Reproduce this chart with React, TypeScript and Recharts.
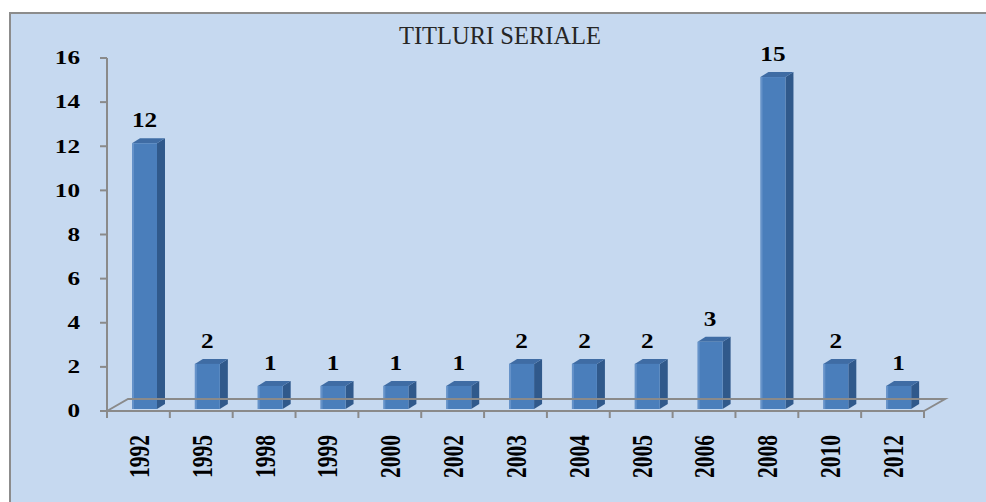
import React from 'react';
import { BarChart, Bar, XAxis, YAxis, LabelList, ReferenceLine } from 'recharts';

const years = ['1992', '1995', '1998', '1999', '2000', '2002', '2003', '2004', '2005', '2006', '2008', '2010', '2012'];
const titles = [12, 2, 1, 1, 1, 1, 2, 2, 2, 3, 15, 2, 1];
const yTicks = [0, 2, 4, 6, 8, 10, 12, 14, 16];

const data = years.map((year, i) => ({ year, titles: titles[i] }));

const FONT = '"Liberation Serif", "Times New Roman", serif';
const AXIS = '#8a8a8a';
// depth of the 3d boxes and of the floor
const DEPTH_X = 8;
const DEPTH_Y = 5;
const FLOOR_X = 21;
const FLOOR_Y = 12;

const Bar3D = (props: any) => {
  const { x, y, width, height } = props;
  const fx = x + 6;
  const top = y - 3;
  const bottom = y + height - 2;
  const r = fx + width;
  return (
    <g>
      <path
        d={`M${r},${top} L${r + DEPTH_X},${top - DEPTH_Y} L${r + DEPTH_X},${bottom - DEPTH_Y} L${r},${bottom} Z`}
        fill="#30598b"
      />
      <path
        d={`M${fx},${top} L${fx + DEPTH_X},${top - DEPTH_Y} L${r + DEPTH_X},${top - DEPTH_Y} L${r},${top} Z`}
        fill="#3f6ca4"
      />
      <rect x={fx} y={top} width={width} height={bottom - top} fill="#4a7ebb" />
      <rect x={fx} y={top} width={2} height={bottom - top} fill="#78a0d2" opacity={0.6} />
    </g>
  );
};

const Floor = (props: any) => {
  const { x1, y1, x2, y2 } = props;
  return (
    <path
      d={`M${x1},${y1} L${x1 + FLOOR_X},${y1 - FLOOR_Y} L${x2 + FLOOR_X},${y2 - FLOOR_Y} L${x2},${y2}`}
      fill="none"
      stroke={AXIS}
      strokeWidth={2}
    />
  );
};

const XTick = (props: any) => {
  const { x, y, payload, index } = props;
  const half = payload?.offset || 817 / 26;
  const last = (payload?.index ?? index) === years.length - 1;
  return (
    <g>
      <line x1={x - half} y1={y} x2={x - half} y2={y + 7} stroke={AXIS} strokeWidth={2} />
      {last && <line x1={x + half} y1={y} x2={x + half} y2={y + 7} stroke={AXIS} strokeWidth={2} />}
      <text
        transform={`translate(${x},${y + 24}) scale(1.38,1) rotate(-90)`}
        textAnchor="end"
        dy="0.35em"
        fontFamily={FONT}
        fontWeight="bold"
        fontSize={21.5}
        fill="#000"
      >
        {payload.value}
      </text>
    </g>
  );
};

const YTick = (props: any) => {
  const { x, y, payload } = props;
  return (
    <text
      transform={`translate(${x},${y}) scale(1.4,1)`}
      textAnchor="end"
      dy="0.35em"
      fontFamily={FONT}
      fontWeight="bold"
      fontSize={18}
      fill="#000"
    >
      {payload.value}
    </text>
  );
};

const BarLabel = (props: any) => {
  const vb = props.viewBox || {};
  const x = props.x ?? vb.x;
  const y = props.y ?? vb.y;
  const width = props.width ?? vb.width;
  return (
    <text
      transform={`translate(${x + 6 + width / 2},${y - 19}) scale(1.2,1)`}
      textAnchor="middle"
      fontFamily={FONT}
      fontWeight="bold"
      fontSize={21}
      fill="#000"
    >
      {props.value}
    </text>
  );
};

export default function App() {
  return (
    <div
      style={{
        position: 'absolute',
        left: 9,
        top: 12,
        width: 977,
        height: 490,
        boxSizing: 'border-box',
        borderLeft: '2px solid #8c8c8c',
        borderTop: '2px solid #8c8c8c',
        background: '#c6d9f0',
      }}
    >
      <div
        style={{
          position: 'absolute',
          left: 339,
          top: 10,
          width: 300,
          textAlign: 'center',
          fontFamily: FONT,
          fontSize: 24.5,
          lineHeight: '24.5px',
          color: '#262626',
        }}
      >
        TITLURI SERIALE
      </div>
      <BarChart
        width={975}
        height={488}
        data={data}
        margin={{ top: 44, right: 62, left: 0, bottom: 0 }}
        style={{ position: 'absolute', left: 0, top: 0 }}
      >
        <ReferenceLine y={0} shape={Floor} />
        <XAxis
          dataKey="year"
          height={91}
          interval={0}
          tickSize={0}
          tickMargin={0}
          tickLine={false}
          axisLine={{ stroke: AXIS, strokeWidth: 2 }}
          tick={<XTick />}
        />
        <YAxis
          width={96}
          domain={[0, 16]}
          ticks={yTicks}
          interval={0}
          tickSize={7}
          tickMargin={20}
          tickLine={{ stroke: AXIS, strokeWidth: 2 }}
          axisLine={{ stroke: AXIS, strokeWidth: 2 }}
          tick={<YTick />}
        />
        <Bar dataKey="titles" barSize={25} shape={<Bar3D />} isAnimationActive={false}>
          <LabelList dataKey="titles" content={<BarLabel />} />
        </Bar>
      </BarChart>
    </div>
  );
}
